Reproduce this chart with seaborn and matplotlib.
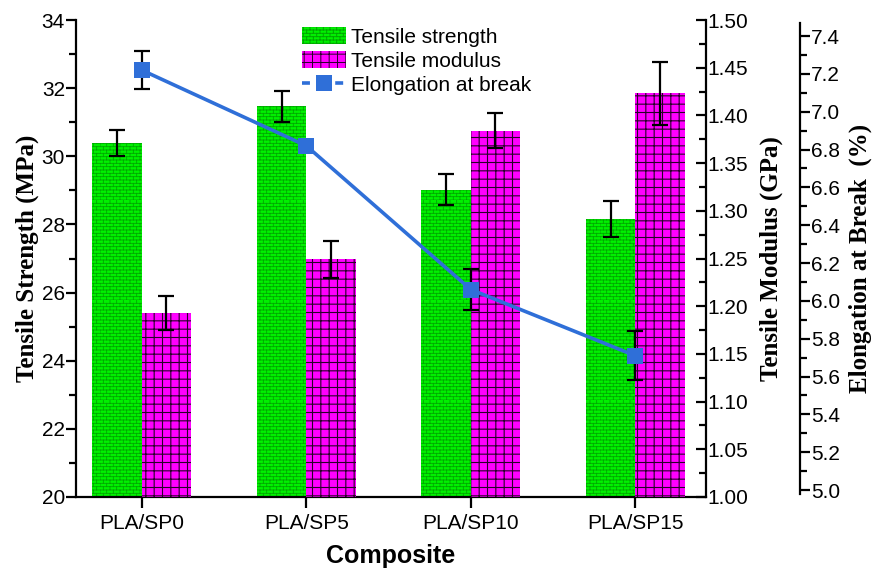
import numpy as np
import pandas as pd
import matplotlib
matplotlib.use("Agg")
import matplotlib.pyplot as plt
import matplotlib.hatch as mhatch
from matplotlib.path import Path
from matplotlib.patches import Patch
from matplotlib.lines import Line2D
from matplotlib.ticker import MultipleLocator, FormatStrFormatter
import seaborn as sns
import warnings
warnings.filterwarnings("ignore")

# ---------------- data ----------------
categories = ["PLA/SP0", "PLA/SP5", "PLA/SP10", "PLA/SP15"]
strength = [30.38, 31.47, 29.02, 28.15]
strength_err = [0.38, 0.45, 0.45, 0.53]
modulus = [1.193, 1.249, 1.384, 1.423]
modulus_err = [0.018, 0.019, 0.018, 0.033]
elongation = [7.22, 6.82, 6.06, 5.71]
elongation_err = [0.10, 0.03, 0.11, 0.13]

series_names = ["Tensile strength", "Tensile modulus", "Elongation at break"]


# ---------------- custom brick hatch ----------------
class BrickHatch(mhatch.HatchPatternBase):
    def __init__(self, hatch, density):
        self.n = hatch.count('b') * density
        self.m = self.n // 2
        self.num_vertices = (2 * self.n + 2 * self.n * self.m) if self.n else 0

    def set_vertices_and_codes(self, vertices, codes):
        n, m = self.n, self.m
        k = 0
        for i in range(n):
            y = i / n
            vertices[k] = (0.0, y); codes[k] = Path.MOVETO; k += 1
            vertices[k] = (1.0, y); codes[k] = Path.LINETO; k += 1
        for i in range(n):
            y0 = i / n
            y1 = (i + 1) / n
            off = 0.5 * (i % 2)
            for j in range(m):
                x = ((j + off) / m) % 1.0
                vertices[k] = (x, y0); codes[k] = Path.MOVETO; k += 1
                vertices[k] = (x, y1); codes[k] = Path.LINETO; k += 1


if BrickHatch not in mhatch._hatch_types:
    mhatch._hatch_types.append(BrickHatch)

# ---------------- style ----------------
sns.set_theme(style="ticks")
plt.rcParams["font.family"] = ["Liberation Sans", "DejaVu Sans"]
plt.rcParams["hatch.linewidth"] = 0.6
plt.rcParams["axes.linewidth"] = 1.6
for key in ("text.color", "axes.labelcolor", "xtick.color", "ytick.color",
            "axes.edgecolor", "xtick.labelcolor", "ytick.labelcolor"):
    plt.rcParams[key] = "black"

GREEN = "#00f000"
GREEN_H = "#00a800"
MAGENTA = "#ff00ff"
MAG_H = "#2a002a"
BLUE = "#2f6fd8"
TICK_FS = 15
LAB_FS = 18
SERIF = ["Liberation Serif", "DejaVu Serif"]

fig = plt.figure(figsize=(8.79, 5.71), dpi=100)
ax = fig.add_axes([76 / 879, 1 - 497 / 571, 630 / 879, 477 / 571])
ax2 = ax.twinx()
ax3 = ax.twinx()

hue_order = series_names[:2]
pal = {series_names[0]: GREEN, series_names[1]: MAGENTA}
df_s = pd.DataFrame({"Composite": categories, "value": strength,
                     "Series": series_names[0]})
df_m = pd.DataFrame({"Composite": categories, "value": modulus,
                     "Series": series_names[1]})

sns.barplot(data=df_s, x="Composite", y="value", hue="Series",
            hue_order=hue_order, order=categories, width=0.6, dodge=True,
            palette=pal, edgecolor=GREEN_H, linewidth=0, hatch="bbbbb",
            errorbar=None, legend=False, ax=ax, saturation=1)
sns.barplot(data=df_m, x="Composite", y="value", hue="Series",
            hue_order=hue_order, order=categories, width=0.6, dodge=True,
            palette=pal, edgecolor=MAG_H, linewidth=0, hatch="++",
            errorbar=None, legend=False, ax=ax2, saturation=1)
for p in ax.patches:
    if hasattr(p, "set_hatch_linewidth"):
        p.set_hatch_linewidth(0.6)
for p in ax2.patches:
    if hasattr(p, "set_hatch_linewidth"):
        p.set_hatch_linewidth(0.8)

# error bars at bar centres
xs_s = sorted(p.get_x() + p.get_width() / 2 for p in ax.patches)
xs_m = sorted(p.get_x() + p.get_width() / 2 for p in ax2.patches)
ax.errorbar(xs_s, strength, yerr=strength_err, fmt="none", ecolor="black",
            elinewidth=1.6, capsize=6, capthick=1.6, zorder=5)
ax2.errorbar(xs_m, modulus, yerr=modulus_err, fmt="none", ecolor="black",
             elinewidth=1.6, capsize=6, capthick=1.6, zorder=5)

# elongation line
xpos = np.arange(len(categories))
sns.lineplot(x=xpos, y=elongation, ax=ax3, color=BLUE, linewidth=2.6,
             marker="s", markersize=12, markeredgewidth=0, zorder=4)
ax3.errorbar(xpos, elongation, yerr=elongation_err, fmt="none",
             ecolor="black", elinewidth=1.6, capsize=6, capthick=1.6, zorder=3)

# ---------------- axes ----------------
ax.set_xlim(-0.40, 3.43)
ax.set_ylim(20, 34)
ax2.set_ylim(1.00, 1.50)
ax3.set_ylim(4.963, 7.485)

ax.set_xticks(xpos)
ax.set_xticklabels(categories, fontsize=TICK_FS)
ax.set_xlabel("Composite", fontsize=LAB_FS, fontweight="bold", labelpad=8)

ax.yaxis.set_major_locator(MultipleLocator(2))
ax.yaxis.set_minor_locator(MultipleLocator(1))
ax.tick_params(axis="y", which="major", direction="out", length=7, width=1.6,
               labelsize=TICK_FS, pad=1)
ax.tick_params(axis="y", which="minor", direction="out", length=5, width=1.6)
ax.tick_params(axis="x", direction="out", length=8, width=1.6, pad=4)
ax.set_ylabel("Tensile Strength (MPa)", fontsize=LAB_FS, fontweight="bold",
              family=SERIF, labelpad=2)

ax2.yaxis.set_major_locator(MultipleLocator(0.05))
ax2.yaxis.set_minor_locator(MultipleLocator(0.025))
ax2.yaxis.set_major_formatter(FormatStrFormatter("%.2f"))
ax2.tick_params(axis="y", which="major", direction="in", length=7, width=1.6,
                labelsize=TICK_FS, pad=1)
ax2.tick_params(axis="y", which="minor", direction="in", length=5, width=1.6)
ax2.set_ylabel("Tensile Modulus (GPa)", fontsize=LAB_FS, fontweight="bold",
               family=SERIF, labelpad=8)

ax3.spines["right"].set_position(("axes", 1 + 94 / 630))
ax3.spines["right"].set_bounds(4.98, 7.47)
ax3.set_yticks([5.0 + 0.2 * i for i in range(13)])
ax3.yaxis.set_minor_locator(MultipleLocator(0.1))
ax3.yaxis.set_major_formatter(FormatStrFormatter("%.1f"))
ax3.tick_params(axis="y", which="major", direction="out", length=7, width=1.6,
                labelsize=TICK_FS, pad=1)
ax3.tick_params(axis="y", which="minor", direction="out", length=5, width=1.6)
ax3.set_ylabel("Elongation at Break  (%)", fontsize=LAB_FS, fontweight="bold",
               family=SERIF, labelpad=6)

for a in (ax, ax2, ax3):
    a.spines["top"].set_visible(False)
    a.set_facecolor("none")
    a.grid(False)
ax.spines["right"].set_visible(False)
ax2.spines["left"].set_visible(False)
ax2.spines["bottom"].set_visible(False)
ax3.spines["left"].set_visible(False)
ax3.spines["bottom"].set_visible(False)
ax2.tick_params(axis="x", which="both", length=0)
ax3.tick_params(axis="x", which="both", length=0)
ax3.set_xlabel("")
ax2.set_xlabel("")

# ---------------- legend ----------------
handles = [
    Patch(facecolor=GREEN, edgecolor=GREEN_H, hatch="bbbbb", linewidth=0),
    Patch(facecolor=MAGENTA, edgecolor=MAG_H, hatch="++", linewidth=0),
    Line2D([0], [0], color=BLUE, linewidth=2.6, linestyle=(0, (2.2, 7.0)),
           marker="s", markersize=12, markeredgewidth=0),
]
leg = fig.legend(handles, series_names, loc="upper left",
                 bbox_to_anchor=(302 / 879, 1 - 27 / 571), frameon=False,
                 fontsize=15, handlelength=2.1, handleheight=0.9,
                 labelspacing=0.2, handletextpad=0.25, borderaxespad=0,
                 borderpad=0)
for h in leg.legend_handles[:2]:
    if hasattr(h, "set_hatch_linewidth"):
        h.set_hatch_linewidth(0.7)

fig.savefig("out.png", dpi=100)
